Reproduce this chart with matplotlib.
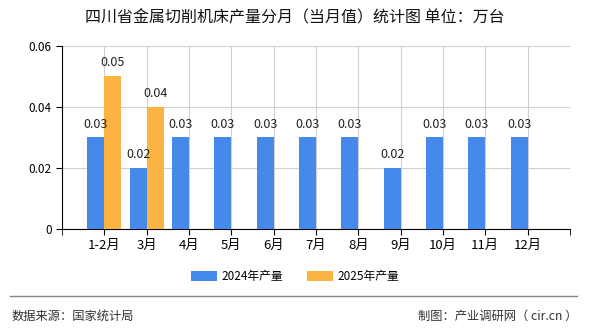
import numpy as np
import matplotlib
matplotlib.use("Agg")
import matplotlib.pyplot as plt

plt.rcParams['font.family'] = ['Noto Sans CJK SC', 'DejaVu Sans']

# data (unit: 万台)
months = ['1-2月', '3月', '4月', '5月', '6月', '7月', '8月', '9月', '10月', '11月', '12月']
prod_2024 = [0.03, 0.02, 0.03, 0.03, 0.03, 0.03, 0.03, 0.02, 0.03, 0.03, 0.03]
prod_2025 = [0.05, 0.04]

blue = '#4589EB'
orange = '#FBB441'

fig = plt.figure(figsize=(5.9, 3.3), dpi=100, facecolor='white')
ax = fig.add_axes([0.105, 0.306, 0.861, 0.555])

x = np.arange(len(months))
w = 0.4
b1 = ax.bar(x - w / 2, prod_2024, width=w, color=blue, label='2024年产量', zorder=3)
x25 = np.arange(len(prod_2025))
b2 = ax.bar(x25 + w / 2, prod_2025, width=w, color=orange, label='2025年产量', zorder=3)

for bars in (b1, b2):
    for r in bars:
        ax.annotate(f'{r.get_height():.2f}', (r.get_x() + r.get_width() / 2, r.get_height()),
                    xytext=(0, 5), textcoords='offset points', ha='center', va='bottom',
                    fontsize=9, color='#222222', zorder=4)

ax.set_xlim(-1, len(months))
ax.set_ylim(0, 0.06)
ax.set_yticks([0, 0.02, 0.04, 0.06])
ax.set_yticklabels(['0', '0.02', '0.04', '0.06'])
ax.set_xticks(x)
ax.set_xticklabels(months)
# grid lines on category centres plus the axis ends
ax.set_xticks(np.arange(-1, len(months) + 1), minor=True)
ax.grid(True, which='minor', axis='x', color='#d0d0d0', linewidth=0.8, zorder=0)
ax.grid(True, which='major', axis='x', color='#d0d0d0', linewidth=0.8, zorder=0)
ax.grid(True, axis='y', color='#d0d0d0', linewidth=0.8, zorder=0)

for s in ['top', 'right']:
    ax.spines[s].set_visible(False)
ax.spines['left'].set_color('black')
ax.spines['bottom'].set_color('black')
ax.tick_params(axis='both', which='both', labelsize=8.5, color='black', length=4, direction='out')
ax.tick_params(axis='x', labelsize=9.5)

fig.text(0.5, 0.945, '四川省金属切削机床产量分月（当月值）统计图 单位：万台',
         ha='center', va='center', fontsize=11.5, color='#111111')

fig.legend(handles=[b1, b2], loc='center', bbox_to_anchor=(0.5, 0.163), ncol=2,
           frameon=False, fontsize=8.5, handlelength=2.2, handleheight=0.9, columnspacing=2.0,
           handletextpad=0.4)

fig.add_artist(plt.Line2D([0.017, 0.978], [0.103, 0.103], color='#888888', linewidth=1))
fig.text(0.02, 0.042, '数据来源：国家统计局', ha='left', va='center', fontsize=8.8, color='#333333')
fig.text(0.978, 0.042, '制图：产业调研网（ cir.cn ）', ha='right', va='center', fontsize=8.8, color='#333333')

fig.savefig('out.png', dpi=100, facecolor='white')
